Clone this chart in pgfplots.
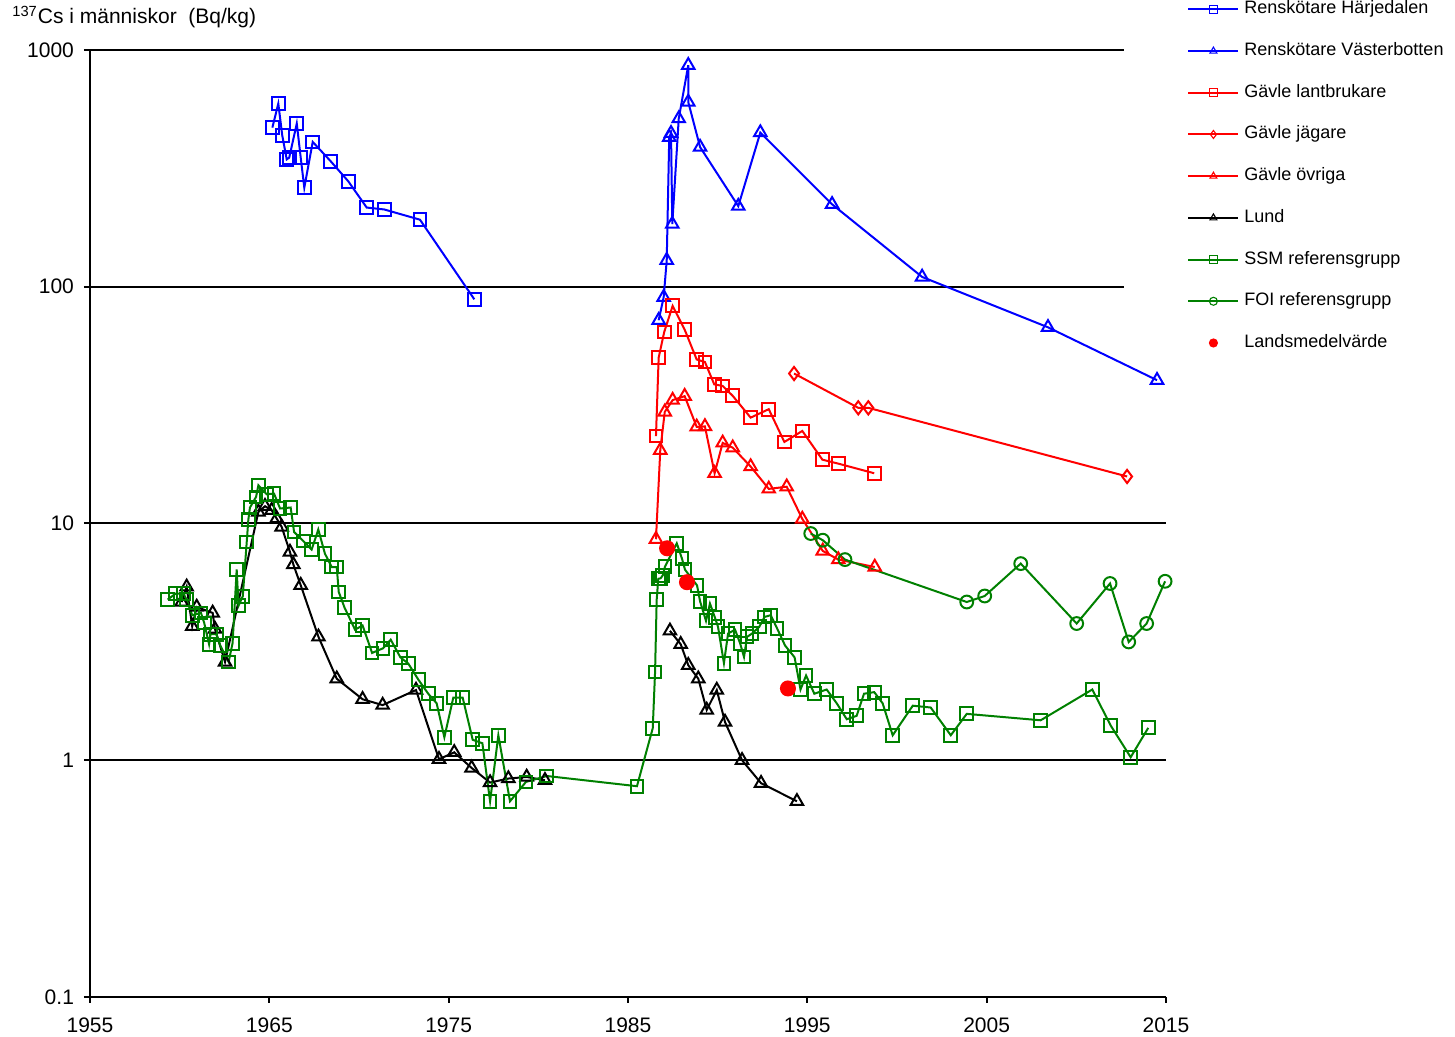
\documentclass[border=0pt]{standalone}
\usepackage{fontspec}
\setmainfont{Liberation Sans}
\usepackage{pgfplots}
\pgfplotsset{compat=1.18}
\definecolor{xlblue}{RGB}{0,0,255}
\definecolor{xlred}{RGB}{255,0,0}
\definecolor{xlgreen}{RGB}{0,128,0}

\begin{document}
\begin{tikzpicture}[font=\fontsize{9}{11}\selectfont]
\path[use as bounding box] (-45pt,-20pt) rectangle (682.5pt,498.5pt);
\begin{axis}[
  scale only axis, width=538pt, height=473.5pt,
  ymode=log, xmin=1955, xmax=2015, ymin=0.1, ymax=1000,
  xtick={1955,1965,...,2015},
  ytick={0.1,1,10,100,1000}, yticklabels={0.1,1,10,100,1000},
  yminorticks=false,
  axis lines*=left, axis line style={line width=1pt},
  tick align=outside, major tick length=3pt,
  tick style={black, line width=1pt},
  ymajorgrids, grid style={black, line width=1pt},
  /pgf/number format/1000 sep={}, /pgf/number format/assume math mode=true,
  tick label style={font=\fontsize{10.5}{12}\selectfont},
  xticklabel style={yshift=-4pt},
  yticklabel style={xshift=-1.5pt},
  clip=false,
  every axis plot/.append style={line width=1pt},
  legend cell align=left,
  legend style={at={(0.961,1.0565)}, anchor=north west, draw=none, fill=white,
    inner xsep=31.5pt, inner ysep=2pt, row sep=12.35pt,
    nodes={inner xsep=2.5pt, inner ysep=0pt, text height=6.5pt, text depth=2pt}},
  legend image code/.code={\draw[mark repeat=2,mark phase=2,#1]
    plot coordinates {(0pt,0pt) (12.5pt,0pt) (25pt,0pt)};},
  legend image post style={mark size=2pt, every mark/.append style={line width=0.55pt}},
]
% Renskötare Härjedalen
\addplot[xlblue, mark=square, mark size=3.2pt, mark options={solid, fill=white}] coordinates {
 (1965.17,470) (1965.50,594) (1965.72,436) (1965.97,345) (1966.11,351)
 (1966.53,489) (1966.75,351) (1966.95,262) (1967.42,409) (1968.42,339)
 (1969.40,279) (1970.43,216) (1971.41,212) (1973.40,192) (1976.43,88.5)
};
\addlegendentry{Renskötare Härjedalen}
% Renskötare Västerbotten
\addplot[xlblue, mark=triangle, mark size=3.6pt, mark options={solid, fill=white}] coordinates {
 (1986.71,72.2) (1986.99,90.3) (1987.16,129.4) (1987.30,428) (1987.40,445)
 (1987.47,184) (1987.83,513) (1988.36,862) (1988.36,603) (1989.02,389)
 (1991.15,219) (1992.38,448) (1996.38,223) (2001.40,110) (2008.42,67.4)
 (2014.50,40.3)
};
\addlegendentry{Renskötare Västerbotten}
% Gävle lantbrukare
\addplot[xlred, mark=square, mark size=3.2pt, mark options={solid, fill=white}] coordinates {
 (1986.56,23.4) (1986.71,50.2) (1987.02,64.4) (1987.49,83.0) (1988.16,65.9)
 (1988.83,49.3) (1989.29,48.1) (1989.81,38.7) (1990.28,38.1) (1990.84,34.6)
 (1991.84,28.0) (1992.85,30.4) (1993.72,22.1) (1994.72,24.6) (1995.84,18.6)
 (1996.73,17.9) (1998.73,16.3)
};
\addlegendentry{Gävle lantbrukare}
% Gävle jägare
\addplot[xlred, mark=diamond, mark size=3.3pt, mark options={solid, fill=white}] coordinates {
 (1994.26,43.0) (1997.84,30.8) (1998.40,30.8) (2012.83,15.8)
};
\addlegendentry{Gävle jägare}
% Gävle övriga
\addplot[xlred, mark=triangle, mark size=3.6pt, mark options={solid, fill=white}] coordinates {
 (1986.56,8.58) (1986.80,20.4) (1987.05,29.6) (1987.49,33.2) (1988.16,34.5)
 (1988.83,25.6) (1989.29,25.7) (1989.83,16.3) (1990.28,21.9) (1990.84,20.9)
 (1991.84,17.4) (1992.85,14.0) (1993.85,14.3) (1994.72,10.45) (1995.86,7.66)
 (1996.73,7.04) (1998.76,6.55)
};
\addlegendentry{Gävle övriga}
% Lund
\addplot[black, mark=triangle, mark size=3.6pt, mark options={solid, fill=white}] coordinates {
 (1960.11,4.66) (1960.39,5.40) (1960.70,3.68) (1960.95,4.44) (1961.84,4.19)
 (1961.97,3.58) (1962.53,2.60) (1964.39,11.19) (1964.76,11.83) (1965.13,11.38)
 (1965.41,10.49) (1965.69,9.67) (1966.15,7.58) (1966.34,6.71) (1966.75,5.49)
 (1967.74,3.32) (1968.76,2.21) (1970.20,1.81) (1971.32,1.71) (1973.18,1.98)
 (1974.46,1.01) (1975.31,1.08) (1976.28,0.928) (1977.31,0.805) (1978.33,0.837)
 (1979.35,0.850) (1980.37,0.823)
};
\addlegendentry{Lund}
\addplot[black, mark=triangle, mark size=3.6pt, mark options={solid, fill=white}, forget plot] coordinates {
 (1987.34,3.52) (1987.94,3.09) (1988.36,2.52) (1988.92,2.21) (1989.39,1.63)
 (1989.95,1.98) (1990.41,1.45) (1991.36,1.00) (1992.42,0.80) (1994.42,0.671)
};
% SSM referensgrupp
\addplot[xlgreen, mark=square, mark size=3.2pt, mark options={solid, fill=white}] coordinates {
 (1959.33,4.77) (1959.78,5.06) (1960.20,5.06) (1960.39,4.77) (1960.70,4.10)
 (1961.19,4.19) (1961.37,3.80) (1961.64,3.09) (1961.72,3.41) (1962.04,3.41)
 (1962.27,3.05) (1962.73,2.60) (1962.95,3.12) (1963.18,6.39) (1963.28,4.49)
 (1963.52,4.93) (1963.74,8.36) (1963.83,10.39) (1963.92,11.68) (1964.26,12.95)
 (1964.39,14.5) (1964.85,13.29) (1965.26,13.38) (1965.60,11.57) (1966.19,11.68)
 (1966.38,9.21) (1966.89,8.44) (1967.36,7.76) (1967.73,9.43) (1968.10,7.46)
 (1968.48,6.55) (1968.76,6.55) (1968.87,5.14) (1969.19,4.42) (1969.78,3.56)
 (1970.20,3.71) (1970.73,2.84) (1971.34,2.97) (1971.77,3.23) (1972.31,2.72)
 (1972.75,2.56) (1973.31,2.19) (1973.86,1.91) (1974.33,1.74) (1974.76,1.25)
 (1975.26,1.84) (1975.78,1.84) (1976.34,1.22) (1976.88,1.18) (1977.31,0.671)
 (1977.77,1.275) (1978.42,0.671) (1979.31,0.810) (1980.47,0.858) (1985.50,0.777)
 (1986.38,1.365) (1986.51,2.36) (1986.60,4.77) (1986.69,5.84) (1986.82,5.87)
 (1986.94,6.04) (1987.06,6.57) (1987.72,8.25) (1988.01,7.11) (1988.18,6.38)
 (1988.85,5.48) (1989.02,4.69) (1989.35,3.88) (1989.57,4.59) (1989.85,4.00)
 (1990.02,3.66) (1990.35,2.57) (1990.58,3.43) (1990.97,3.56) (1991.25,3.12)
 (1991.47,2.73) (1991.64,3.32) (1991.92,3.43) (1992.32,3.66) (1992.61,4.03)
 (1992.96,4.10) (1993.31,3.61) (1993.76,3.05) (1994.29,2.72) (1994.62,1.99)
 (1994.93,2.28) (1995.39,1.91) (1996.08,1.99) (1996.64,1.74) (1997.20,1.49)
 (1997.75,1.54) (1998.16,1.91) (1998.73,1.94) (1999.20,1.74) (1999.76,1.275)
 (2000.88,1.70) (2001.88,1.67) (2003.00,1.275) (2003.89,1.57) (2008.01,1.475)
 (2010.89,1.99) (2011.92,1.40) (2013.03,1.03) (2014.01,1.37)
};
\addlegendentry{SSM referensgrupp}
% FOI referensgrupp
\addplot[xlgreen, mark=o, mark size=3.2pt, mark options={solid, fill=white}] coordinates {
 (1995.19,9.07) (1995.86,8.50) (1997.10,7.04) (2003.89,4.66) (2004.89,4.94)
 (2006.90,6.77) (2010.02,3.78) (2011.88,5.58) (2012.92,3.16) (2013.92,3.78)
 (2014.95,5.70)
};
\addlegendentry{FOI referensgrupp}
% Landsmedelvärde
\addplot[xlred, only marks, mark=*, mark size=3.5pt] coordinates {
 (1987.18,7.86) (1988.29,5.65) (1993.92,2.01)
};
\addlegendentry{Landsmedelvärde}
\end{axis}
\node[anchor=base west, inner sep=0pt, font=\fontsize{10.5}{12}\selectfont] at (-39pt,486.5pt)
  {\textsuperscript{137}Cs i människor\ \ (Bq/kg)};
\end{tikzpicture}
\end{document}
